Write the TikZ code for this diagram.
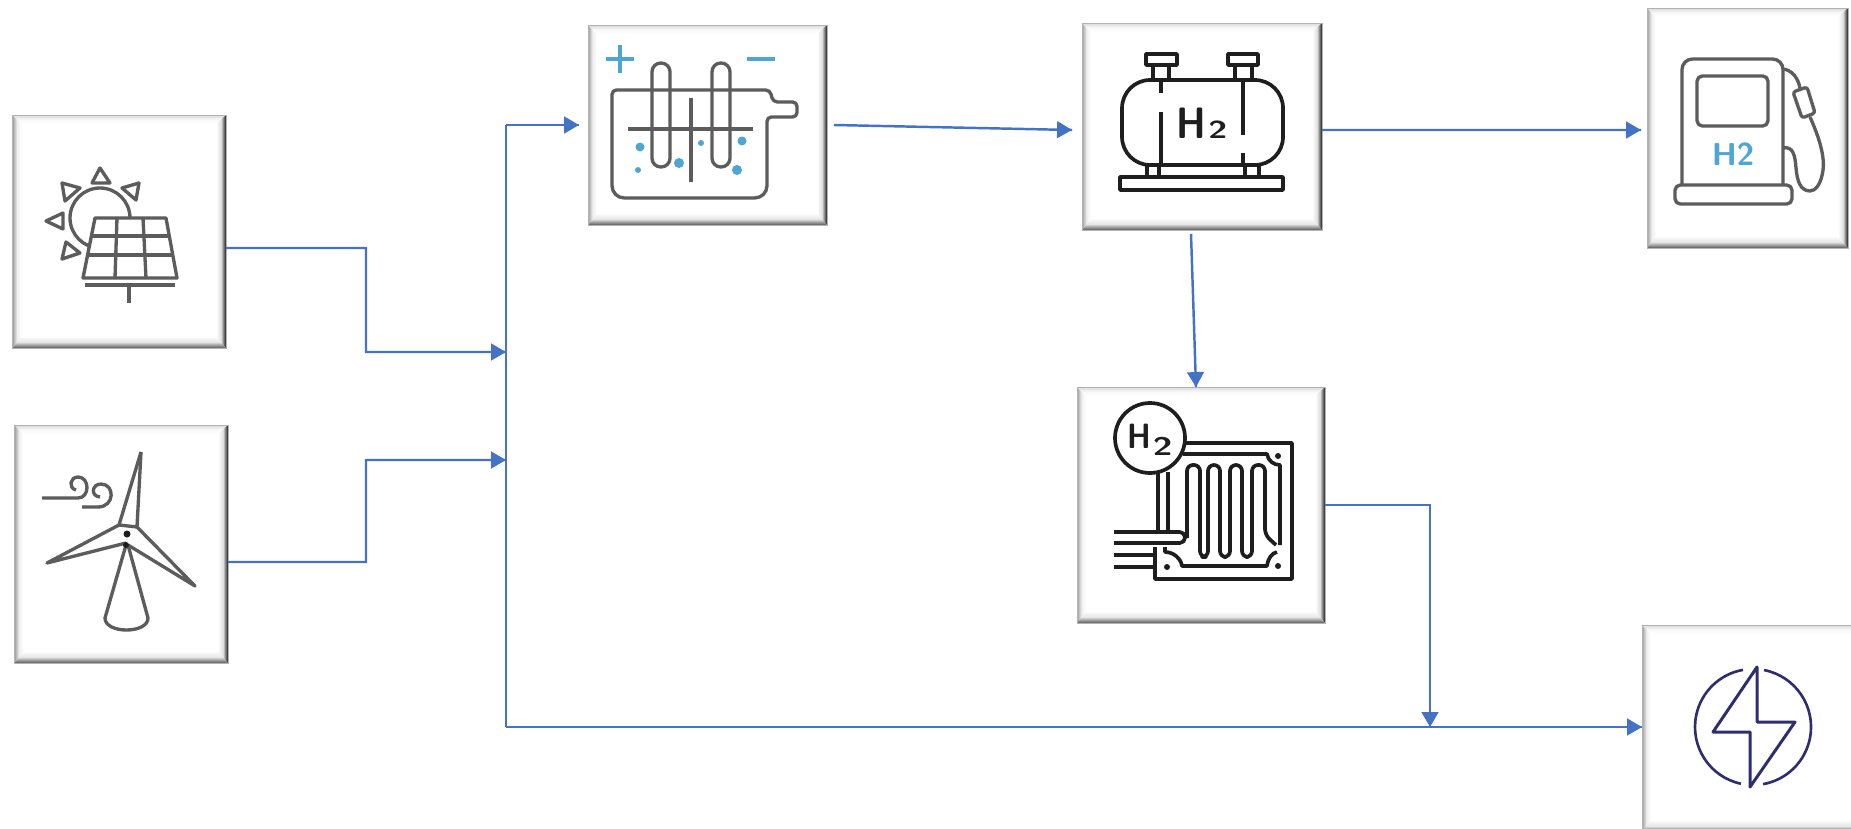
\documentclass[tikz,border=0pt]{standalone}
\usepackage{tikz}
\usetikzlibrary{arrows.meta}
\usetikzlibrary{decorations.markings}
\definecolor{flowblue}{HTML}{4472C4}
\definecolor{iconblue}{HTML}{4FA6D3}
\definecolor{icongrey}{HTML}{5C5C5C}
\definecolor{iconblack}{HTML}{1E1E1E}
\definecolor{iconnavy}{HTML}{2E2E6E}
\tikzset{flow/.style = {draw = flowblue, line width = 1.4pt,
                        decoration={markings,
                                    mark=at position 1 with {\arrow{Triangle[length=8.5pt, width=9.5pt]}}},
                        postaction={decorate}}}
\tikzset{icon/.style = {draw = icongrey, line width = 1.9pt, line join = round}}
\tikzset{tankline/.style = {draw = iconblack, line width = 2.1pt, line join = round}}
\tikzset{panelbox/.style = {draw = gray!60, fill = white, line width = 0.5pt, inner sep = 0, outer sep = 0,
    path picture = {
      \path (path picture bounding box.north west) coordinate (bnw) ++(9, 9) coordinate (inw);
      \path (path picture bounding box.north east) coordinate (bne) ++(-10, 9) coordinate (ine);
      \path (path picture bounding box.south west) coordinate (bsw) ++(9, -12) coordinate (isw);
      \path (path picture bounding box.south east) coordinate (bse) ++(-10, -12) coordinate (ise);
      \shade [left color = gray!75, right color = white, middle color = gray!12] (bnw) -- (bsw) -- (isw) -- (inw) -- cycle;
      \shade [top color = gray!30, bottom color = white, middle color = gray!5] (bnw) -- (bne) -- (ine) -- (inw) -- cycle;
      \shade [left color = white, right color = black!90, middle color = gray!25] (bne) -- (bse) -- (ise) -- (ine) -- cycle;
      \shade [top color = white, bottom color = black!65, middle color = gray!20] (bsw) -- (bse) -- (ise) -- (isw) -- cycle;
    }}}
\newcommand{\hgas}[3]{\sffamily\bfseries\fontsize{#1}{#1}\selectfont\scalebox{0.85}[1]{H}\kern 1pt\raisebox{#3}{\fontsize{#2}{#2}\selectfont\scalebox{1.4}[1]{2}}}

\begin{document}
\begin{tikzpicture}[x = 0.02cm, y = -0.02cm]
    \useasboundingbox (0, 0) rectangle (1851, 828);
    \clip (0, 0) rectangle (1851, 828);

    \node [panelbox, minimum width = 4.27cm, minimum height = 4.66cm] (solar) at (119.25, 231.5) {};
    \node [panelbox, minimum width = 4.27cm, minimum height = 4.76cm] (wind) at (121.25, 544) {};
    \node [panelbox, minimum width = 4.78cm, minimum height = 4cm] (elec) at (707.5, 125) {};
    \node [panelbox, minimum width = 4.8cm, minimum height = 4.14cm] (tank) at (1202, 126.5) {};
    \node [panelbox, minimum width = 4.96cm, minimum height = 4.72cm] (fuel) at (1201, 505) {};
    \node [panelbox, minimum width = 4.02cm, minimum height = 4.8cm] (pump) at (1747.5, 128) {};
    \node [panelbox, minimum width = 4.56cm, minimum height = 4.14cm] (bolt) at (1756, 728.5) {};

    \coordinate (bustop) at (506, 125);
    \coordinate (busbottom) at (506, 727);
    \coordinate (solarin) at (506, 352);
    \coordinate (windin) at (506, 460);
    \coordinate (fuelin) at (1430, 727);

    \draw [draw = flowblue, line width = 1pt] (bustop) -- (busbottom);
    \draw [flow] ([yshift = -0.33cm]solar.east) -- ++(140, 0) -- ++(0, 104) -- (solarin);
    \draw [flow] ([yshift = -0.36cm]wind.east) -- ++(138, 0) -- ++(0, -102) -- (windin);
    \draw [flow] (bustop) -- ([xshift = -0.18cm]elec.west);
    \draw [flow] ([xshift = 0.14cm]elec.east) -- ([xshift = -0.2cm, yshift = -0.07cm]tank.west);
    \draw [flow] ([yshift = -0.07cm]tank.east) -- ([xshift = -0.12cm, yshift = -0.04cm]pump.west);
    \draw [flow] ([xshift = -0.22cm, yshift = -0.08cm]tank.south) -- ([xshift = -0.1cm]fuel.north);
    \draw [flow] (fuel.east) -| (fuelin);
    \draw [flow] (busbottom) -- (busbottom -| bolt.west);

    % solar
    \draw [icon] (100, 218) circle [radius = 30];
    \foreach \ax/\ay/\bx/\by/\cx/\cy in {100/168/92/183/110/183, 139/183/122/188/136/200,
        62/183/80/188/65/201, 46/221/63/213/63/229, 62/259/66/242/80/253}
      \draw [icon] (\ax, \ay) -- (\bx, \by) -- (\cx, \cy) -- cycle;
    \draw [icon, fill = white] (95, 218) -- (166, 218) -- (177, 278) -- (83, 278) -- cycle;
    \draw [icon] (91.4, 236) -- (169.3, 236);
    \draw [icon] (87.6, 255) -- (173, 255);
    \draw [icon] (117, 218) -- (115, 278);
    \draw [icon] (143, 218) -- (146, 278);
    \draw [icon] (85, 285) -- (175, 285);
    \draw [icon] (129, 287) -- (129, 303);

    % wind
    \draw [icon] (126, 545) -- (105, 618) .. controls (105, 634) and (148, 634) .. (148, 618) -- (128, 545);
    \draw [icon] (141, 452) -- (119, 525) -- (47, 563) -- (126, 543);
    \draw [icon] (141, 452) -- (137, 527) -- (195, 586) -- (128, 545);
    \draw [icon] (119, 525) -- (137, 527);
    \fill [iconblack] (127, 534) circle [radius = 3.5];
    \fill [iconblack] (126, 545) circle [radius = 3];
    \draw [icon] (42, 498) -- (78, 498) .. controls (90, 498) and (90, 477) .. (78, 477)
        .. controls (70, 477) and (68, 488) .. (76, 490);
    \draw [icon] (82, 507) -- (98, 507) .. controls (115, 507) and (115, 484) .. (101, 484)
        .. controls (92, 484) and (90, 496) .. (100, 497);

    % electrolyser
    \draw [icon, rounded corners = 2.5pt] (612, 140) -- (612, 90) -- (770, 90) -- (773, 102) -- (797, 102) -- (797, 117)
        -- (767, 117) -- (767, 150);
    \draw [icon, rounded corners = 7pt] (767, 150) -- (767, 198) -- (612, 198) -- (612, 140);
    \draw [icon, rounded corners = 5pt] (652, 63) rectangle (670, 167);
    \draw [icon, rounded corners = 5pt] (712, 63) rectangle (730, 167);
    \draw [icon] (691, 98) -- (691, 182);
    \draw [icon] (628, 129) -- (753, 129);
    \foreach \bx/\by/\br in {640/147/4.5, 638/170/3, 679/163/5, 701/143/3, 742/141/4.5, 737/170/5}
      \fill [iconblue] (\bx, \by) circle [radius = \br];
    \draw [iconblue, line width = 2.6pt] (606, 59) -- (634, 59);
    \draw [iconblue, line width = 2.6pt] (620, 45) -- (620, 73);
    \draw [iconblue, line width = 2.6pt] (747, 59) -- (775, 59);

    % tank
    \draw [tankline, rounded corners = 16pt] (1122, 80) rectangle (1283, 165);
    \draw [tankline] (1120, 177) rectangle (1283, 190);
    \foreach \fx in {1147, 1159, 1245, 1259}
      \draw [tankline] (\fx, 165) -- (\fx, 177);
    \draw [tankline] (1146, 54) rectangle (1177, 65);
    \draw [tankline] (1228, 54) rectangle (1258, 65);
    \foreach \fx in {1153, 1169, 1235, 1252}
      \draw [tankline] (\fx, 65) -- (\fx, 79);
    \draw [tankline] (1161, 78) -- (1161, 93);
    \draw [tankline] (1161, 112) -- (1161, 165);
    \draw [tankline] (1243, 80) -- (1243, 135);
    \draw [tankline] (1243, 153) -- (1243, 165);
    \node [text = iconblack, inner sep = 0, anchor = base] (tanklabel) at (1202, 138) {\hgas{25}{14}{0pt}};

    % fuel cell
    \draw [tankline] (1185, 443) -- (1292, 443) -- (1292, 579) -- (1155, 579) -- (1155, 547);
    \draw [tankline] (1158, 473) -- (1158, 532);
    \draw [tankline] (1168, 472) -- (1168, 532);
    \draw [tankline] (1183, 454) -- (1267, 454) .. controls (1268, 461) and (1274, 465) .. (1280, 465) -- (1280, 545);
    \draw [tankline] (1277, 552) .. controls (1272, 553) and (1268, 558) .. (1267, 566) -- (1182, 566)
        .. controls (1181, 559) and (1174, 552) .. (1165, 552) -- (1165, 547);
    \draw [tankline, rounded corners = 3.4pt] (1187, 538) -- (1187, 465) -- (1200, 465) -- (1200, 557) -- (1208, 557)
        -- (1208, 465) -- (1220, 465) -- (1220, 557) -- (1230, 557) -- (1230, 465) -- (1242, 465)
        -- (1242, 557) -- (1252, 557) -- (1252, 465) -- (1265, 465) -- (1265, 535) -- (1276, 545);
    \draw [tankline, rounded corners = 3pt] (1114, 532) -- (1185, 532) -- (1185, 543) -- (1114, 543);
    \draw [tankline] (1114, 555) -- (1155, 555);
    \draw [tankline] (1114, 567) -- (1155, 567);
    \foreach \hx/\hy in {1278/456, 1278/566, 1167/567}
      \fill [iconblack] (\hx, \hy) circle [radius = 3];
    \draw [tankline, fill = white] (1150, 438) circle [radius = 35];
    \node [text = iconblack, inner sep = 0, anchor = base] (fuellabel) at (1150, 448) {\hgas{20}{14.5}{-4pt}};

    % pump
    \draw [icon, rounded corners = 6pt] (1682, 185) -- (1682, 59) -- (1783, 59) -- (1783, 185);
    \draw [icon, rounded corners = 3pt] (1675, 185) rectangle (1792, 204);
    \draw [icon, rounded corners = 3pt] (1697, 76) rectangle (1768, 126);
    \draw [icon] (1783, 69) .. controls (1792, 70) and (1798, 78) .. (1800, 88);
    \draw [icon, rounded corners = 1.5pt] (1793, 92) -- (1807, 87) -- (1815, 113) -- (1802, 118) -- cycle;
    \draw [icon] (1810, 117) .. controls (1818, 135) and (1825, 155) .. (1823, 170)
        .. controls (1821, 185) and (1815, 191) .. (1810, 191) .. controls (1800, 191) and (1797, 180) .. (1796, 168)
        .. controls (1795, 155) and (1793, 146) .. (1783, 148);
    \node [text = iconblue, font = \sffamily\bfseries\fontsize{18}{18}\selectfont, inner sep = 0, anchor = base] (pumplabel) at (1733, 165) {H2};

    % bolt
    \draw [draw = iconnavy, line width = 1.5pt] (1753, 727) ++(-79:58) arc (-79:80:58);
    \draw [draw = iconnavy, line width = 1.5pt] (1753, 727) ++(102:58) arc (102:260:58);
    \draw [draw = iconnavy, line width = 1.7pt, line join = round] (1757, 667) -- (1713, 732) -- (1750, 732) -- (1750, 787)
        -- (1795, 722) -- (1757, 722) -- cycle;
  \end{tikzpicture}
\end{document}
